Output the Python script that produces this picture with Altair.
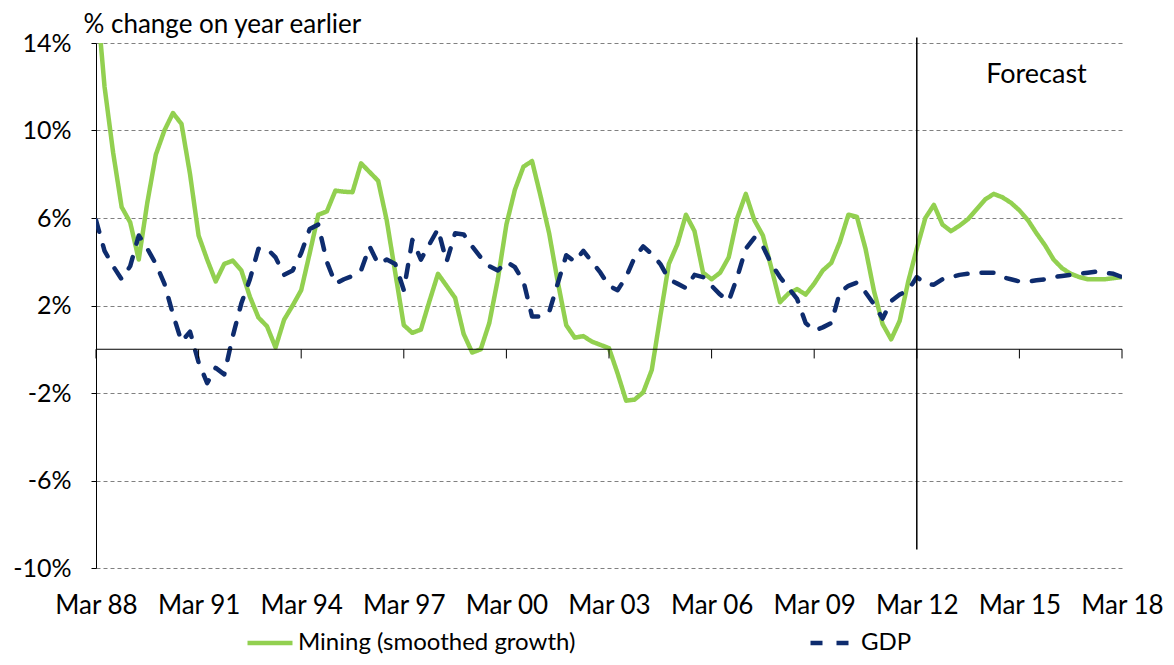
import altair as alt
import pandas as pd

# Quarterly data, Mar 88 (index 0) to Mar 18 (index 120)
mining = [16.5, 12.0, 9.0, 6.5, 5.8, 4.1, 6.7, 8.9, 10.0, 10.8,
          10.3, 8.0, 5.2, 4.1, 3.1, 3.9, 4.05, 3.6, 2.4, 1.45,
          1.05, 0.08, 1.35, 2.0, 2.7, 4.4, 6.15, 6.3, 7.25, 7.2,
          7.18, 8.5, 8.1, 7.7, 5.9, 3.5, 1.1, 0.75, 0.9, 2.2,
          3.45, 2.9, 2.35, 0.7, -0.15, 0.0, 1.2, 3.2, 5.7, 7.3,
          8.35, 8.6, 7.0, 5.3, 3.1, 1.1, 0.53, 0.6, 0.35, 0.2,
          0.05, -1.1, -2.35, -2.3, -1.97, -0.95, 1.5, 3.9, 4.8, 6.15,
          5.4, 3.5, 3.2, 3.5, 4.2, 6.0, 7.1, 5.9, 5.2, 3.7,
          2.15, 2.55, 2.75, 2.5, 3.0, 3.6, 3.95, 4.9, 6.15, 6.05,
          4.6, 2.65, 1.15, 0.45, 1.3, 3.1, 4.6, 6.0, 6.6, 5.7,
          5.4, 5.65, 5.95, 6.4, 6.85, 7.1, 6.95, 6.7, 6.35, 5.9,
          5.3, 4.75, 4.1, 3.7, 3.45, 3.3, 3.2, 3.2, 3.2, 3.25,
          3.3]
gdp = [5.9, 4.5, 3.8, 3.2, 3.8, 5.2, 4.6, 3.9, 3.0, 1.6,
       0.35, 0.8, -0.6, -1.55, -0.85, -1.15, 0.6, 2.1, 3.2, 4.6,
       4.6, 4.2, 3.4, 3.6, 4.4, 5.5, 5.7, 4.0, 3.0, 3.2,
       3.35, 3.6, 4.7, 3.9, 4.1, 3.9, 2.7, 5.0, 4.1, 4.8,
       5.5, 4.0, 5.3, 5.25, 4.7, 4.2, 3.8, 3.6, 4.0, 3.75,
       3.1, 1.5, 1.5, 1.7, 3.0, 4.3, 4.0, 4.5, 4.0, 3.5,
       2.9, 2.7, 3.3, 4.2, 4.7, 4.35, 3.9, 3.2, 3.0, 2.8,
       3.4, 3.3, 2.9, 2.5, 2.2, 3.3, 4.6, 5.1, 4.7, 3.9,
       3.3, 2.8, 2.3, 1.2, 0.85, 1.0, 1.2, 2.6, 2.9, 3.05,
       2.6, 2.05, 1.4, 2.2, 2.5, 2.7, 3.3, 3.0, 2.95, 3.2,
       3.3, 3.4, 3.45, 3.5, 3.5, 3.5, 3.3, 3.2, 3.1, 3.1,
       3.15, 3.2, 3.3, 3.35, 3.4, 3.45, 3.5, 3.55, 3.5, 3.45,
       3.3]
series_names = ["Mining (smoothed growth)", "GDP"]
tick_labels = ["Mar 88", "Mar 91", "Mar 94", "Mar 97", "Mar 00", "Mar 03",
               "Mar 06", "Mar 09", "Mar 12", "Mar 15", "Mar 18"]
tick_positions = [0, 12, 24, 36, 48, 60, 72, 84, 96, 108, 120]
y_ticks = [-10, -6, -2, 2, 6, 10, 14]
forecast_start = [96]
forecast_text = ["Forecast"]

GREEN = "#92D050"
NAVY = "#0E2C6E"
FONT = "Lato"
FS = 26

rows = []
for name, vals in zip(series_names, [mining, gdp]):
    for i, v in enumerate(vals):
        rows.append({"q": i, "series": name, "value": v})
df = pd.DataFrame(rows)

x_scale = alt.Scale(domain=[0, 120], nice=False, zero=False)
y_scale = alt.Scale(domain=[-10, 14], nice=False, zero=False)

label_expr = "[" + ",".join("'%s'" % t for t in tick_labels) + "][round(datum.value/12)]"

legend_spec = dict(title=None, orient="none", direction="horizontal",
                   columns=2, legendX=149, legendY=575,
                   columnPadding=225, symbolType="stroke",
                   symbolSize=2025, symbolStrokeWidth=4.5,
                   labelFont=FONT, labelFontSize=24, labelLimit=0,
                   labelColor="black", labelOffset=3, padding=0)

lines = alt.Chart(df).mark_line(strokeWidth=4.5, clip=True, strokeCap="round",
                                strokeJoin="round").encode(
    x=alt.X("q:Q", scale=x_scale,
            axis=alt.Axis(values=tick_positions, labelExpr=label_expr, grid=False,
                          domain=False, ticks=False, labelPadding=24,
                          labelFontSize=FS, labelFont=FONT, labelColor="black",
                          labelFlush=False, labelOverlap=False, title=None)),
    y=alt.Y("value:Q", scale=y_scale,
            axis=alt.Axis(values=y_ticks, labelExpr="datum.value + '%'",
                          grid=True, gridDash=[4, 3], gridColor="#808080", gridWidth=1,
                          domainColor="black", domainWidth=1, tickColor="black",
                          tickSize=5, labelPadding=20, labelFontSize=25,
                          labelFont=FONT, labelColor="black",
                          title="% change on year earlier", titleAngle=0,
                          titleAlign="left", titleBaseline="middle",
                          titleX=-13, titleY=-19, titleFont=FONT,
                          titleFontSize=FS, titleFontWeight="normal",
                          titleColor="black")),
    color=alt.Color("series:N",
                    scale=alt.Scale(domain=series_names, range=[GREEN, NAVY]),
                    legend=alt.Legend(**legend_spec)),
    strokeDash=alt.StrokeDash("series:N",
                              scale=alt.Scale(domain=series_names,
                                              range=[[1, 0], [12, 14]]),
                              legend=alt.Legend(**legend_spec)),
)

zero_line = alt.Chart(pd.DataFrame({"y": [0]})).mark_rule(
    color="black", strokeWidth=1).encode(y=alt.Y("y:Q"))

ticks = alt.Chart(pd.DataFrame({"q": tick_positions})).mark_rule(
    color="black", strokeWidth=1).encode(
    x=alt.X("q:Q"),
    y=alt.datum(0), y2=alt.datum(-0.42))

forecast_line = alt.Chart(pd.DataFrame({"q": forecast_start})).mark_rule(
    color="black", strokeWidth=1.5).encode(
    x=alt.X("q:Q"),
    y=alt.datum(14.25), y2=alt.datum(-9.15))

forecast_label = alt.Chart(pd.DataFrame({"t": forecast_text})).mark_text(
    font=FONT, fontSize=27, color="black", align="center", baseline="middle").encode(
    x=alt.datum(110), y=alt.datum(12.53), text="t:N")

chart = alt.layer(lines, zero_line, ticks, forecast_line, forecast_label).properties(
    width=1026, height=525,
    padding={"left": 88, "top": 35, "right": 44, "bottom": 89},
    autosize=alt.AutoSizeParams(type="none"),
).configure_view(stroke=None)

chart.save("out.html", embed_options={"renderer": "svg", "actions": False})
